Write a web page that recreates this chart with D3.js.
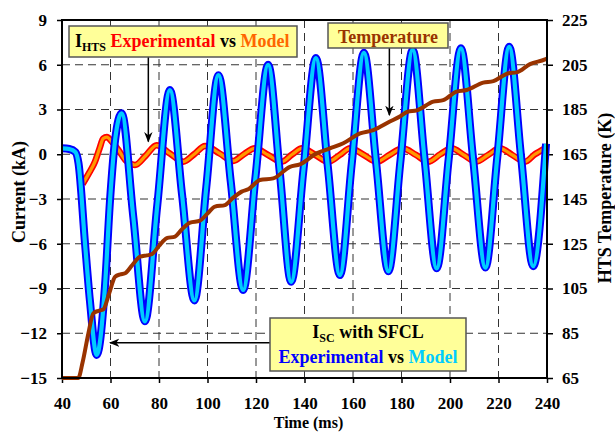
<!DOCTYPE html>
<html>
<head>
<meta charset="utf-8">
<script src="https://cdn.jsdelivr.net/npm/d3@7"></script>
<style>
  body { margin: 0; background: #fff; }
  svg text { font-family: "Liberation Serif", "Times New Roman", serif; font-weight: bold; }
</style>
</head>
<body>
<div id="chart"></div>
<script>
// ---- data ----
// fault current with SFCL (kA), experimental and model traces lie on top of each other
var iscTime = [40, 43, 45.5, 46.8, 49.5, 51.5, 54.3, 57.7, 59.8, 61.9, 64.6, 69.4, 74.2, 79.3, 84.5, 89.5, 94.6, 99.5,
  104.5, 109.6, 114.7, 119.8, 125, 129.8, 134.5, 139.6, 144.7, 149.6, 154.6, 159.5, 164.5, 169.5, 174.6, 179.6,
  184.6, 189.5, 194.5, 199.5, 204.5, 209.5, 214.6, 219.5, 224.4, 229.3, 234.3, 239.6];
var iscExp = [0.4, 0.35, 0.15, -0.6, -6.0, -9.8, -13.45, -8.9, -3.1, 0.95, 2.75, -4.2, -11.2, -3.4, 4.3, -2.7, -9.8, -2.2,
  5.3, -1.85, -9.1, -1.5, 6.0, -1.2, -8.55, -1.0, 6.45, -0.8, -8.1, -0.6, 6.8, -0.5, -7.85, -0.4,
  7.0, -0.3, -7.65, -0.25, 7.1, -0.25, -7.6, -0.2, 7.2, -0.15, -7.5, 0.7];
var iscModel = iscExp.slice();

// current through the HTS element (kA)
var htsTime = [48.5, 51, 53.6, 55.5, 57, 58.5, 60.5, 63.2, 66.5, 70.1, 74.5, 79, 84.5, 90, 94.5, 99, 105, 110.6, 115, 119.5,
  125, 130.6, 135, 139, 144.5, 149.8, 154.5, 158.8, 164.5, 169.8, 175, 180.5, 186, 191, 196, 200.7, 205.7, 210.7,
  215.7, 220.6, 225.7, 230.9, 235, 239.2];
var htsExp = [-2.0, -1.3, -0.5, 0.4, 1.05, 1.15, 0.85, 0.3, -0.45, -0.72, -0.1, 0.6, 0.05, -0.5, 0.0, 0.55, 0.05, -0.45, 0.0, 0.4,
  -0.05, -0.5, 0.0, 0.4, -0.05, -0.5, -0.05, 0.4, -0.05, -0.5, -0.05, 0.4, -0.05, -0.5, 0.0, 0.4, -0.05, -0.5,
  -0.05, 0.4, -0.05, -0.5, 0.0, 0.4];
var htsModel = htsExp.slice();

// HTS temperature (K)
var tempTime = [40, 46.7, 48.5, 50.9, 52.9, 55, 57, 59.5, 61.9, 64, 66, 69, 72.2, 75, 77, 80, 83.2, 86.6, 89.5, 92.8, 96.9,
  100, 103.1, 107.2, 110.5, 114.1, 117, 121.6, 127.1, 134, 138.1, 145, 150.5, 156, 162.9, 168.4, 175, 179.5, 182.5,
  186.3, 193.1, 197.2, 202.7, 206.9, 213.7, 217.9, 224.1, 227.5, 233, 239.2, 240];
var tempK = [65, 65, 72, 85, 93.9, 95, 95.6, 103, 110.3, 111.3, 111.8, 115.5, 119.2, 119.8, 120.3, 124, 127.5, 128.2, 131.5, 134.4, 135.3,
  138.5, 141.6, 142.3, 145.5, 148.3, 149.5, 153.5, 154.2, 159.4, 160.5, 165.4, 167.6, 169.9, 174.3, 175.8, 179.5, 182, 184,
  184.6, 188.5, 189.2, 193, 193.7, 197, 197.7, 201.2, 201.6, 205.3, 207.4, 207.8];

var xTicks = [40, 60, 80, 100, 120, 140, 160, 180, 200, 220, 240];
var yTicks = [9, 6, 3, 0, -3, -6, -9, -12, -15];
var tTicks = [65, 85, 105, 125, 145, 165, 185, 205, 225];

// ---- layout ----
var width = 615, height = 432;
var margin = {top: 20, right: 68, bottom: 54, left: 62};
var W = width - margin.left - margin.right;
var H = height - margin.top - margin.bottom;

var svg = d3.select("#chart").append("svg")
  .attr("width", width)
  .attr("height", height);

var g = svg.append("g").attr("transform", "translate(" + margin.left + "," + margin.top + ")");

var x = d3.scaleLinear().domain([40, 240]).range([0, W]);
var y = d3.scaleLinear().domain([-15, 9]).range([H, 0]);
var yT = d3.scaleLinear().domain([65, 225]).range([H, 0]);

// dashed grid
g.selectAll(".vgrid").data(xTicks.slice(1, -1)).enter().append("line")
  .attr("x1", function(d) { return x(d); }).attr("x2", function(d) { return x(d); })
  .attr("y1", 0).attr("y2", H)
  .attr("stroke", "#333").attr("stroke-width", 1).attr("stroke-dasharray", "8,5");
g.selectAll(".hgrid").data(yTicks.slice(1, -1)).enter().append("line")
  .attr("y1", function(d) { return y(d); }).attr("y2", function(d) { return y(d); })
  .attr("x1", 0).attr("x2", W)
  .attr("stroke", "#333").attr("stroke-width", 1).attr("stroke-dasharray", "8,5");

// axes
function styleAxis(sel) {
  sel.attr("font-family", "'Liberation Serif', serif").attr("font-size", 17);
  sel.select(".domain").remove();
  sel.selectAll(".tick line").attr("stroke", "#000").attr("stroke-width", 1.5);
  sel.selectAll(".tick text").attr("fill", "#000").style("font-size", "17px")
    .style("font-family", "'Liberation Serif', serif").style("font-weight", "bold");
}
g.append("g").attr("transform", "translate(0," + H + ")")
  .call(d3.axisBottom(x).tickValues(xTicks).tickSize(5).tickPadding(14))
  .call(styleAxis);
g.append("g")
  .call(d3.axisLeft(y).tickValues(yTicks).tickSize(5).tickPadding(10))
  .call(styleAxis);
g.append("g").attr("transform", "translate(" + W + ",0)")
  .call(d3.axisRight(yT).tickValues(tTicks).tickSize(6).tickPadding(9))
  .call(styleAxis);

// lines
var lineI = d3.line()
  .x(function(d) { return x(d[0]); })
  .y(function(d) { return y(d[1]); })
  .curve(d3.curveMonotoneX);
var lineT = d3.line()
  .x(function(d) { return x(d[0]); })
  .y(function(d) { return yT(d[1]); })
  .curve(d3.curveMonotoneX);

function pairs(a, b) { return a.map(function(v, i) { return [v, b[i]]; }); }

g.append("path").datum(pairs(htsTime, htsExp)).attr("d", lineI)
  .attr("fill", "none").attr("stroke", "#ff0000").attr("stroke-width", 6.5).attr("stroke-linejoin", "round");
g.append("path").datum(pairs(htsTime, htsModel)).attr("d", lineI)
  .attr("fill", "none").attr("stroke", "#ff9900").attr("stroke-width", 3.2).attr("stroke-linejoin", "round");

g.append("path").datum(pairs(iscTime, iscExp)).attr("d", lineI)
  .attr("fill", "none").attr("stroke", "#0000ff").attr("stroke-width", 8).attr("stroke-linejoin", "round");
g.append("path").datum(pairs(iscTime, iscModel)).attr("d", lineI)
  .attr("fill", "none").attr("stroke", "#00ccff").attr("stroke-width", 4.2).attr("stroke-linejoin", "round");

g.append("path").datum(pairs(tempTime, tempK)).attr("d", lineT)
  .attr("fill", "none").attr("stroke", "#993300").attr("stroke-width", 4).attr("stroke-linejoin", "round");

// frame
g.append("rect").attr("width", W).attr("height", H)
  .attr("fill", "none").attr("stroke", "#000").attr("stroke-width", 2);

// axis titles
svg.append("text").attr("x", margin.left + W / 2 + 4).attr("y", 428)
  .attr("text-anchor", "middle").style("font-size", "16px").text("Time (ms)");
svg.append("text").attr("transform", "translate(25,192) rotate(-90)")
  .attr("text-anchor", "middle").style("font-size", "18px").text("Current (kA)");
svg.append("text").attr("transform", "translate(611,198) rotate(-90)")
  .attr("text-anchor", "middle").style("font-size", "18px").text("HTS Temperature (K)");

// arrows
svg.append("defs").append("marker")
  .attr("id", "head").attr("viewBox", "0 0 10 10")
  .attr("refX", 9).attr("refY", 5)
  .attr("markerWidth", 7).attr("markerHeight", 7)
  .attr("orient", "auto-start-reverse")
  .append("path").attr("d", "M0,1 L10,5 L0,9 L3,5 Z").attr("fill", "#000");

function arrow(x1, y1, x2, y2) {
  g.append("line").attr("x1", x1).attr("y1", y1).attr("x2", x2).attr("y2", y2)
    .attr("stroke", "#000").attr("stroke-width", 1.5).attr("marker-end", "url(#head)");
}
arrow(x(75.6), 57 - margin.top, x(75.6), y(0.85));
arrow(x(175), 48 - margin.top, x(175), yT(182.5));
arrow(270 - margin.left, y(-12.63), x(59.8), y(-12.63));

// legend boxes
function box(x0, y0, w, h) {
  svg.append("rect").attr("x", x0).attr("y", y0).attr("width", w).attr("height", h)
    .attr("fill", "#ffff99").attr("stroke", "#555").attr("stroke-width", 1.5);
}

box(69, 26, 228, 31);
var t1 = svg.append("text").attr("x", 75).attr("y", 47).style("font-size", "18px");
t1.append("tspan").attr("fill", "#000").text("I");
t1.append("tspan").attr("fill", "#000").attr("dy", 4).style("font-size", "12px").text("HTS");
t1.append("tspan").attr("fill", "#ff0000").attr("dy", -4).text(" Experimental");
t1.append("tspan").attr("fill", "#000").text(" vs ");
t1.append("tspan").attr("fill", "#ff6600").text("Model");

box(328, 23, 120, 25);
svg.append("text").attr("x", 388).attr("y", 42.5).attr("text-anchor", "middle")
  .style("font-size", "18px").attr("fill", "#993300").text("Temperature");

box(270, 318, 196, 53);
var t2 = svg.append("text").attr("x", 368).attr("y", 338).attr("text-anchor", "middle").style("font-size", "18px");
t2.append("tspan").attr("fill", "#000").text("I");
t2.append("tspan").attr("fill", "#000").attr("dy", 4).style("font-size", "12px").text("SC");
t2.append("tspan").attr("fill", "#000").attr("dy", -4).text(" with SFCL");
var t3 = svg.append("text").attr("x", 368).attr("y", 363).attr("text-anchor", "middle").style("font-size", "18px");
t3.append("tspan").attr("fill", "#0000ff").text("Experimental");
t3.append("tspan").attr("fill", "#000").text(" vs ");
t3.append("tspan").attr("fill", "#00ccff").text("Model");
</script>
</body>
</html>
